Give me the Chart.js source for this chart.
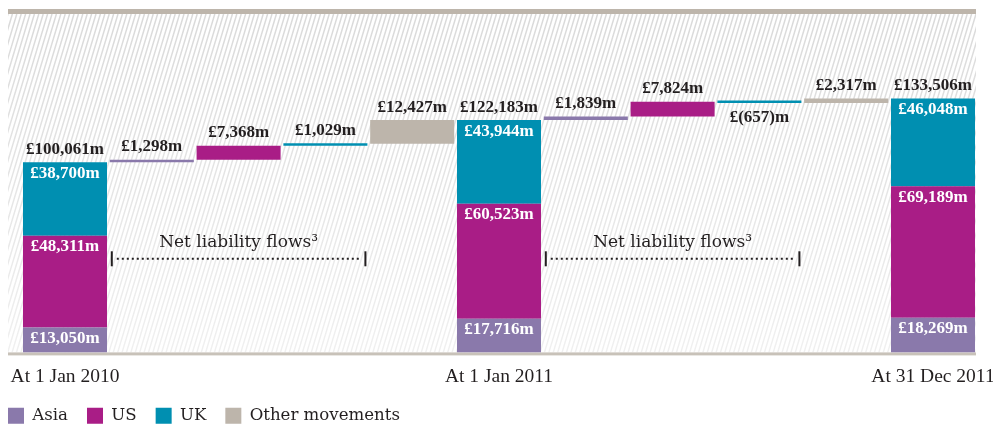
<!DOCTYPE html>
<html lang="en">
<head>
<meta charset="UTF-8">
<title>Liabilities by region 2010-2011</title>
<script src="https://cdn.jsdelivr.net/npm/chart.js"></script>
<style>
  html, body { margin: 0; padding: 0; background: #fff; }
  #wrap { width: 993px; height: 426px; position: relative; }
</style>
</head>
<body>
<div id="wrap"><canvas id="flows"></canvas></div>
<script>
// tick labels, one per column (blank under the flow columns)
var tickLabels = ['At 1 Jan 2010', '', '', '', '', 'At 1 Jan 2011', '', '', '', '', 'At 31 Dec 2011'];

// opening balances (£m) at each of the three dates
var openAsia = [13050, 17716, 18269];
var openUS = [48311, 60523, 69189];
var openUK = [38700, 43944, 46048];

// movements (£m) between the dates
var flowAsia = [1298, 1839];
var flowUS = [7368, 7824];
var flowUK = [1029, -657];
var flowOther = [12427, 2317];

var seriesNames = ['Asia', 'US', 'UK', 'Other movements'];
var seriesColors = ['#8a79ab', '#a91d86', '#008fb1', '#bdb5ab'];
var ink = '#231f20';

// build floating [from, to] ranges for the waterfall
var ranges = [[], [], [], []];
var amounts = [[], [], [], []];
var kinds = [];
for (var p = 0; p < openAsia.length; p++) {
  var opens = [openAsia[p], openUS[p], openUK[p]];
  var run = 0;
  for (var s = 0; s < 4; s++) {
    if (s < 3) {
      ranges[s].push([run, run + opens[s]]);
      amounts[s].push(opens[s]);
      run += opens[s];
    } else {
      ranges[s].push(null);
      amounts[s].push(null);
    }
  }
  kinds.push('total');
  if (p < flowAsia.length) {
    var moves = [flowAsia[p], flowUS[p], flowUK[p], flowOther[p]];
    for (var f = 0; f < 4; f++) {
      for (var k = 0; k < 4; k++) {
        ranges[k].push(k === f ? [run, run + moves[f]] : null);
        amounts[k].push(k === f ? moves[f] : null);
      }
      run += moves[f];
      kinds.push('flow');
    }
  }
}

function money(v) {
  var txt = Math.abs(v).toLocaleString('en-GB');
  return v < 0 ? '£(' + txt + ')m' : '£' + txt + 'm';
}

var catPct = 0.968;
var frameInset = 13.6; // hatched panel starts a little left of the first bar

// hatched panel, top rule and base line
var backdrop = {
  id: 'backdrop',
  beforeDatasetsDraw: function (chart) {
    var a = chart.chartArea, ctx = chart.ctx;
    var left = a.left - frameInset, right = a.right - 0.4;
    var h = a.bottom - a.top;
    ctx.save();
    ctx.beginPath();
    ctx.rect(left, a.top, right - left, h);
    ctx.clip();
    var grad = ctx.createLinearGradient(0, a.top, 0, a.bottom);
    grad.addColorStop(0, 'rgba(218,218,218,1)');
    grad.addColorStop(1, 'rgba(218,218,218,0.4)');
    ctx.strokeStyle = grad;
    ctx.lineWidth = 1.5;
    var lean = 0.3;
    ctx.beginPath();
    for (var x = left - h * lean; x < right + 5; x += 4.4) {
      ctx.moveTo(x, a.bottom);
      ctx.lineTo(x + h * lean, a.top);
    }
    ctx.stroke();
    ctx.restore();

    ctx.save();
    ctx.fillStyle = '#bdb5ab';
    ctx.fillRect(left, a.top - 5, right - left, 5);
    ctx.fillStyle = '#c8c2b9';
    ctx.fillRect(left, a.bottom, right - left, 3);
    ctx.restore();
  }
};

// value labels on and above the bars
var valueLabels = {
  id: 'valueLabels',
  afterDatasetsDraw: function (chart) {
    var ctx = chart.ctx;
    ctx.save();
    ctx.font = 'bold 17px "Liberation Serif"';
    ctx.textAlign = 'center';
    ctx.textBaseline = 'middle';
    for (var i = 0; i < kinds.length; i++) {
      var top = Infinity, x = 0, total = 0;
      for (var s = 0; s < 4; s++) {
        var v = amounts[s][i];
        if (v === null) continue;
        var bar = chart.getDatasetMeta(s).data[i];
        var t = Math.min(bar.y, bar.base), b = Math.max(bar.y, bar.base);
        x = bar.x;
        if (kinds[i] === 'total') {
          ctx.fillStyle = '#fff';
          ctx.fillText(money(v), x, t + 11);
          total += v;
          top = Math.min(top, t);
        } else {
          ctx.fillStyle = ink;
          if (v < 0) ctx.fillText(money(v), x, b + 15);
          else ctx.fillText(money(v), x, t - 13);
        }
      }
      if (kinds[i] === 'total') {
        ctx.fillStyle = ink;
        ctx.fillText(money(total), x, top - 13);
      }
    }
    ctx.restore();
  }
};

// "Net liability flows" brackets under the regional movements
var flowSpans = [[1, 3], [6, 8]];
var flowCaption = 'Net liability flows\u00b3';
var flowBracket = {
  id: 'flowBracket',
  afterDatasetsDraw: function (chart) {
    var ctx = chart.ctx, xs = chart.scales.x, ys = chart.scales.y;
    var half = (xs.getPixelForValue(1) - xs.getPixelForValue(0)) * catPct / 2;
    var y = ys.getPixelForValue(49500);
    ctx.save();
    flowSpans.forEach(function (sp) {
      var x0 = xs.getPixelForValue(sp[0]) - half + 1;
      var x1 = xs.getPixelForValue(sp[1]) + half - 1;
      ctx.fillStyle = ink;
      ctx.fillRect(x0, y - 7, 2, 15);
      ctx.fillRect(x1 - 2, y - 7, 2, 15);
      ctx.strokeStyle = ink;
      ctx.lineWidth = 2;
      ctx.setLineDash([2, 3]);
      ctx.beginPath();
      ctx.moveTo(x0 + 6, y + 0.5);
      ctx.lineTo(x1 - 5, y + 0.5);
      ctx.stroke();
      ctx.setLineDash([]);
      ctx.font = '17px "DejaVu Serif"';
      ctx.textAlign = 'center';
      ctx.textBaseline = 'middle';
      ctx.fillText(flowCaption, (x0 + x1) / 2, y - 16);
    });
    ctx.restore();
  }
};

// put the legend flush with the panel edge
var legendNudge = {
  id: 'legendNudge',
  afterLayout: function (chart) {
    var lg = chart.legend;
    var pad = lg.options.labels.padding;
    lg.left = 8 - pad;
    lg.top = chart.chartArea.bottom + 55 - pad;
  }
};

var datasets = seriesNames.map(function (name, i) {
  return {
    label: name,
    data: ranges[i],
    backgroundColor: seriesColors[i],
    borderWidth: 0,
    grouped: false,
    barPercentage: 1,
    categoryPercentage: catPct,
    minBarLength: 2.5
  };
});

new Chart(document.getElementById('flows'), {
  type: 'bar',
  data: { labels: tickLabels, datasets: datasets },
  options: {
    responsive: true,
    maintainAspectRatio: false,
    animation: false,
    layout: { padding: { left: 21.6, right: 16.6, top: 14, bottom: -6 } },
    scales: {
      x: {
        grid: { display: false },
        border: { display: false },
        ticks: {
          color: ink,
          padding: 5,
          maxRotation: 0,
          autoSkip: false,
          font: { family: 'Liberation Serif', size: 19.5 }
        },
        afterFit: function (s) {
          s.height = 34;
          s.paddingLeft = 0;
          s.paddingRight = 0;
        }
      },
      y: {
        display: false,
        min: 0,
        max: 178000
      }
    },
    plugins: {
      legend: {
        position: 'bottom',
        align: 'start',
        labels: {
          boxWidth: 16,
          boxHeight: 16,
          padding: 19,
          color: ink,
          font: { family: 'DejaVu Serif', size: 16.6 }
        }
      },
      tooltip: { enabled: false }
    }
  },
  plugins: [backdrop, valueLabels, flowBracket, legendNudge]
});
</script>
</body>
</html>
